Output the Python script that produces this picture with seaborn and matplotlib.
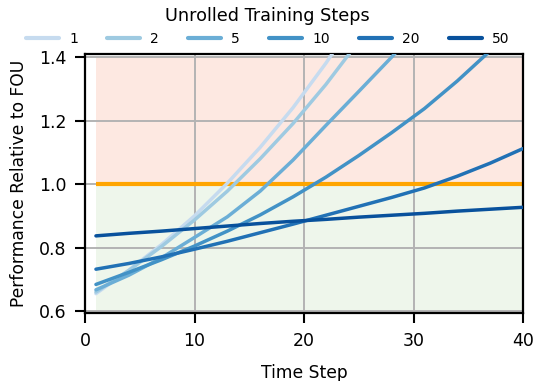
import numpy as np
import pandas as pd
import matplotlib
matplotlib.use("Agg")
import matplotlib.pyplot as plt
import seaborn as sns

# Performance relative to FOU, sampled every three time steps
time_steps = [1, 4, 7, 10, 13, 16, 19, 22, 25, 28, 31, 34, 37, 40]
unroll_steps = ["1", "2", "5", "10", "20", "50"]

perf_1 = [0.655, 0.729, 0.810, 0.900, 1.003, 1.116, 1.241, 1.381, 1.536,
          1.710, 1.900, 2.110, 2.350, 2.620]
perf_2 = [0.660, 0.728, 0.804, 0.887, 0.978, 1.080, 1.191, 1.314, 1.450,
          1.600, 1.765, 1.950, 2.150, 2.370]
perf_5 = [0.667, 0.713, 0.768, 0.832, 0.897, 0.978, 1.076, 1.185, 1.292,
          1.400, 1.515, 1.640, 1.770, 1.910]
perf_10 = [0.684, 0.722, 0.762, 0.805, 0.852, 0.903, 0.960, 1.022, 1.090,
           1.162, 1.238, 1.325, 1.420, 1.520]
perf_20 = [0.732, 0.750, 0.771, 0.795, 0.820, 0.847, 0.874, 0.902, 0.930,
           0.958, 0.988, 1.025, 1.066, 1.112]
perf_50 = [0.837, 0.845, 0.852, 0.860, 0.868, 0.876, 0.883, 0.889, 0.896,
           0.902, 0.908, 0.915, 0.921, 0.927]

series = [perf_1, perf_2, perf_5, perf_10, perf_20, perf_50]
line_colors = ["#c6dbef", "#9ecae1", "#6baed6", "#4292c6", "#2171b5", "#08519c"]

df = pd.DataFrame({
    "Time Step": np.tile(time_steps, len(unroll_steps)),
    "Unrolled": np.repeat(unroll_steps, len(time_steps)),
    "Performance": np.concatenate(series),
})

sns.set_style("ticks")
plt.rcParams["font.family"] = ["DejaVu Sans"]
plt.rcParams.update({
    "text.color": "black",
    "axes.labelcolor": "black",
    "xtick.color": "black",
    "ytick.color": "black",
})

fig = plt.figure(figsize=(5.35, 3.81), dpi=100)
ax = fig.add_axes([85 / 535, 1 - 313 / 381, 438 / 535, 259 / 381])

# shaded regions: worse than FOU (above 1) and better (below 1)
ax.fill_between([1, 40], 1.0, 1.4, color="#fde8e1", zorder=0, linewidth=0)
ax.fill_between([1, 40], 0.6, 1.0, color="#eef6eb", zorder=0, linewidth=0)

sns.lineplot(data=df, x="Time Step", y="Performance", hue="Unrolled",
             hue_order=unroll_steps, palette=line_colors, linewidth=2.5,
             ax=ax, legend=False, zorder=3)

ax.hlines(1.0, 1, 40, color="#ffa500", linewidth=3.0, zorder=2)

ax.set_xlim(0, 40)
ax.set_ylim(0.594, 1.41)
ax.set_xticks([0, 10, 20, 30, 40])
ax.set_yticks([0.6, 0.8, 1.0, 1.2, 1.4])
ax.set_axisbelow(True)
ax.grid(True, color="#b3b3b3", linewidth=1.4)
for sp in ax.spines.values():
    sp.set_visible(True)
    sp.set_color("black")
    sp.set_linewidth(1.6)
ax.tick_params(axis="both", direction="out", length=7, width=1.5,
               labelsize=12.5, color="black", pad=6.5)
ax.set_xlabel("Time Step", fontsize=12.3, labelpad=10)
ax.set_ylabel("Performance Relative to FOU", fontsize=12.3, labelpad=8)

handles = [plt.Line2D([], [], color=c, linewidth=3) for c in line_colors]
fig.legend(handles, unroll_steps, title="Unrolled Training Steps",
           loc="upper center", bbox_to_anchor=(0.5, 0.997), ncol=6,
           frameon=False, fontsize=10, title_fontsize=12.7,
           handlelength=2.4, handletextpad=0.7, columnspacing=2.1,
           borderaxespad=0.0)

fig.savefig("out.png", dpi=100)
